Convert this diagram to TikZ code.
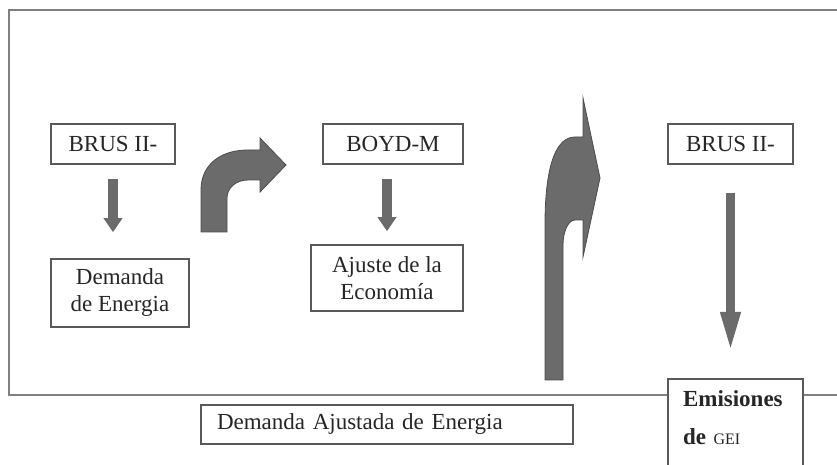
\documentclass[tikz,border=0pt]{standalone}
\usepackage{fontspec}
\setmainfont{Liberation Serif}
\usetikzlibrary{positioning,arrows.meta,calc}

\begin{document}
\begin{tikzpicture}[
  x=0.5pt, y=-0.5pt,
  font=\fontsize{11.5}{13.5}\selectfont,
  box/.style={rectangle, draw=black!65, line width=0.8pt, fill=white,
              align=center, inner sep=2pt, text=black!85},
  flow/.style={draw=black!58, line width=5pt,
               -{Triangle[width=9pt,length=7pt]}},
  longflow/.style={draw=black!58, line width=4.5pt,
               -{Triangle[width=9pt,length=20.5pt]}},
  bentarrow/.style={fill=black!58, draw=black!70, line width=0.4pt},
  frame/.style={draw=black!50, line width=1pt}
]
\useasboundingbox (0,0) rectangle (837,465);
\clip (0,0) rectangle (837,465);

% Outer frame (right side runs off the picture)
\draw[frame] (9,10) rectangle (870,395);

% Top row
\node[box, minimum width=62pt, minimum height=20pt]   (brusA) at (113,144)   {BRUS II-};
\node[box, minimum width=70pt, minimum height=20pt]   (boyd)  at (393,144)   {BOYD-M};
\node[box, minimum width=62.5pt, minimum height=20pt] (brusB) at (730.5,144) {BRUS II-};

% Results
\node[box, minimum width=69pt, minimum height=34pt] (demanda) at (120,293) {Demanda\\de Energia};
\node[box, minimum width=76pt, minimum height=33pt] (ajuste)  at (387,278) {Ajuste de la\\Economía};
\node[box, align=left, text width=170pt, inner xsep=8pt,
      minimum height=19.5pt] (ajustada) at (387,424.5) {Demanda Ajustada de Energia};
\node[box, anchor=north, align=left, text width=52.5pt, inner xsep=7.5pt,
      inner ysep=6pt, font=\fontsize{11.5}{19}\selectfont] (emis) at (735.5,378)
      {\textbf{Emisiones}\\\textbf{de} {\footnotesize GEI}\rule[-20pt]{0pt}{0pt}};

% Straight arrows
\draw[flow, shorten <=7pt, shorten >=13pt] (brusA) -- (brusA |- demanda.north);
\draw[flow, shorten <=7pt, shorten >=6.5pt] (ajuste.north |- boyd.south) -- (ajuste.north);
\draw[longflow, shorten <=14pt, shorten >=12.5pt] (brusB) -- (brusB |- emis.north);

% Bent arrow towards BOYD-M
\draw[bentarrow] (201,232) -- (201,190)
  .. controls (201,165) and (220,150) .. (248,150) -- (260,150) -- (260,138)
  -- (286,165) -- (260,192) -- (260,180) -- (248,180)
  .. controls (236,180) and (227,188) .. (227,198) -- (227,232) -- cycle;

% Tall bent arrow
\draw[bentarrow] (545,380) -- (545,225)
  .. controls (545,160) and (558,137) .. (575,137) -- (583,137) -- (583,98)
  -- (600,178) -- (583,257) -- (583,220) -- (575,220)
  .. controls (568,220) and (563,232) .. (563,245) -- (563,380) -- cycle;

\end{tikzpicture}
\end{document}
